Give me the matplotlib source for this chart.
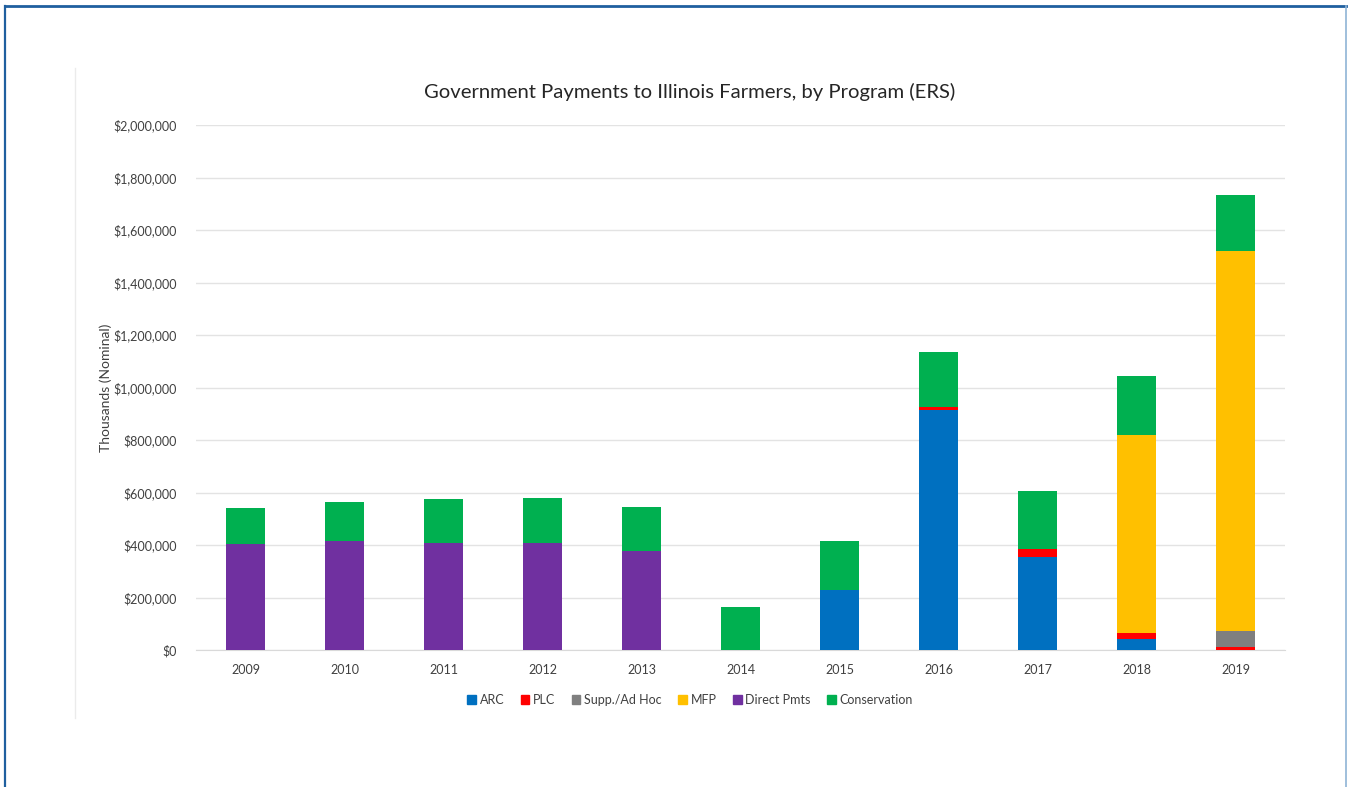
import matplotlib
matplotlib.use("Agg")
import matplotlib.pyplot as plt
from matplotlib.patches import Rectangle
from matplotlib.lines import Line2D
from matplotlib.ticker import FuncFormatter, MultipleLocator
import numpy as np

plt.rcParams['font.family'] = ['Lato', 'DejaVu Sans']

years = ["2009", "2010", "2011", "2012", "2013", "2014", "2015", "2016", "2017", "2018", "2019"]

# Payments in thousands of dollars (nominal)
arc          = [0, 0, 0, 0, 0, 0, 229, 914, 353, 42, 0]
plc          = [0, 0, 0, 0, 0, 0, 0, 13, 33, 21, 13]
supp_ad_hoc  = [0, 0, 0, 0, 0, 0, 0, 0, 0, 0, 59]
mfp          = [0, 0, 0, 0, 0, 0, 0, 0, 0, 755, 1448]
direct_pmts  = [404, 415, 406, 406, 377, 0, 0, 0, 0, 0, 0]
conservation = [137, 150, 169, 173, 168, 164, 186, 207, 220, 226, 213]

series_names = ["ARC", "PLC", "Supp./Ad Hoc", "MFP", "Direct Pmts", "Conservation"]
series_vals = [arc, plc, supp_ad_hoc, mfp, direct_pmts, conservation]
series_colors = ["#0070C0", "#FF0000", "#7F7F7F", "#FFC000", "#7030A0", "#00B050"]

fig = plt.figure(figsize=(13.48, 7.87), dpi=100)
fig.patch.set_facecolor("white")

# outer frame
fig.add_artist(Line2D([5/1348, 5/1348], [0, 1 - 6/787], color="#1F5F9F", lw=1.6))
fig.add_artist(Line2D([5/1348, 1346/1348], [1 - 6/787, 1 - 6/787], color="#1F5F9F", lw=2.0))
fig.add_artist(Line2D([1346/1348, 1346/1348], [0, 1 - 6/787], color="#8FB4D6", lw=1.2))
# faint chart panel edge
fig.add_artist(Line2D([75/1348, 75/1348], [1 - 718/787, 1 - 68/787], color="#EBEBEB", lw=1.0))

ax = fig.add_axes([196/1348, 1 - 650/787, (1285 - 196)/1348, (650 - 125)/787])
x = np.arange(len(years))
bottom = np.zeros(len(years))
for name, vals, col in zip(series_names, series_vals, series_colors):
    v = np.array(vals, dtype=float) * 1000
    ax.bar(x, v, width=0.40, bottom=bottom, color=col, label=name, zorder=3)
    bottom += v

ax.set_xlim(-0.5, len(years) - 0.5)
ax.set_ylim(0, 2_000_000)
ax.yaxis.set_major_locator(MultipleLocator(200_000))
ax.yaxis.set_major_formatter(FuncFormatter(lambda v, p: f"${v:,.0f}"))
ax.set_xticks(x)
ax.set_xticklabels(years)
ax.tick_params(axis="both", length=0, labelsize=9, colors="#404040")
ax.tick_params(axis="y", pad=14)
ax.tick_params(axis="x", pad=10)
ax.grid(axis="y", color="#E3E3E3", lw=1.0, zorder=0)
for s in ["top", "right", "left"]:
    ax.spines[s].set_visible(False)
ax.spines["bottom"].set_color("#D9D9D9")
ax.set_ylabel("Thousands (Nominal)", fontsize=10, color="#404040")
ax.yaxis.set_label_coords(-0.077, 0.5)

fig.text(690/1348, 1 - 92/787, "Government Payments to Illinois Farmers, by Program (ERS)",
         ha="center", va="center", fontsize=14.6, color="#262626")

handles = [Rectangle((0, 0), 1, 1, color=c) for c in series_colors]
fig.legend(handles, series_names, loc="center", bbox_to_anchor=(690/1348, 1 - 700/787),
           ncol=6, frameon=False, fontsize=9, handlelength=0.7, handleheight=0.7,
           handletextpad=0.3, columnspacing=1.3, labelcolor="#404040")

fig.savefig("out.png", dpi=100, facecolor="white")
